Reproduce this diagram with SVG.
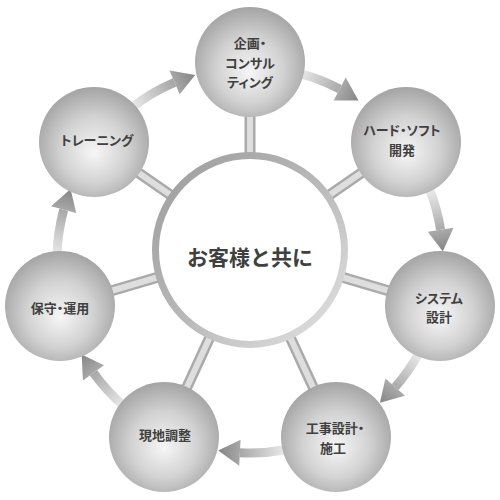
<svg xmlns="http://www.w3.org/2000/svg" width="500" height="500" viewBox="0 0 500 500">
<defs>
<radialGradient id="sat" cx="0.5" cy="0.55" r="0.55" fx="0.5" fy="0.6">
<stop offset="0" stop-color="#f6f6f6"/>
<stop offset="0.55" stop-color="#d2d2d2"/>
<stop offset="1" stop-color="#a4a4a4"/>
</radialGradient>
<linearGradient id="ring" x1="0" y1="0" x2="1" y2="1">
<stop offset="0" stop-color="#9c9c9c"/>
<stop offset="0.5" stop-color="#b8b8b8"/>
<stop offset="1" stop-color="#e4e4e4"/>
</linearGradient>
<linearGradient id="g1" gradientUnits="userSpaceOnUse" x1="298.3" y1="73.2" x2="358.5" y2="100.4"><stop offset="0" stop-color="#ececec"/><stop offset="0.6" stop-color="#b0b0b0"/><stop offset="1" stop-color="#858585"/></linearGradient>
<linearGradient id="g2" gradientUnits="userSpaceOnUse" x1="429.6" y1="189.3" x2="442.8" y2="251.6"><stop offset="0" stop-color="#ececec"/><stop offset="0.6" stop-color="#b0b0b0"/><stop offset="1" stop-color="#858585"/></linearGradient>
<linearGradient id="g3" gradientUnits="userSpaceOnUse" x1="419.3" y1="352.7" x2="379.9" y2="402.7"><stop offset="0" stop-color="#ececec"/><stop offset="0.6" stop-color="#b0b0b0"/><stop offset="1" stop-color="#858585"/></linearGradient>
<linearGradient id="g4" gradientUnits="userSpaceOnUse" x1="286.8" y1="449.5" x2="218.2" y2="450.4"><stop offset="0" stop-color="#ececec"/><stop offset="0.6" stop-color="#b0b0b0"/><stop offset="1" stop-color="#858585"/></linearGradient>
<linearGradient id="g5" gradientUnits="userSpaceOnUse" x1="124.7" y1="406.8" x2="81.7" y2="354.5"><stop offset="0" stop-color="#ececec"/><stop offset="0.6" stop-color="#b0b0b0"/><stop offset="1" stop-color="#858585"/></linearGradient>
<linearGradient id="g6" gradientUnits="userSpaceOnUse" x1="57" y1="256.6" x2="70.6" y2="189"><stop offset="0" stop-color="#ececec"/><stop offset="0.6" stop-color="#b0b0b0"/><stop offset="1" stop-color="#858585"/></linearGradient>
<linearGradient id="g7" gradientUnits="userSpaceOnUse" x1="131.2" y1="107.9" x2="195.2" y2="74.9"><stop offset="0" stop-color="#ececec"/><stop offset="0.6" stop-color="#b0b0b0"/><stop offset="1" stop-color="#858585"/></linearGradient>
</defs>
<style>
.spoke-o{stroke:#aaaaaa;stroke-width:11;fill:none}
.spoke-i{stroke:#dedede;stroke-width:6;fill:none}
.shaft{fill:none;stroke-width:9}
.sat{fill:url(#sat)}
.lbl{font-family:"Noto Sans CJK JP","Noto Sans CJK SC",sans-serif;font-weight:bold;font-size:13px;fill:#404040;text-anchor:middle;font-feature-settings:"palt"}
.ctr{font-family:"Noto Sans CJK JP","Noto Sans CJK SC",sans-serif;font-weight:bold;font-size:21px;fill:#404040;text-anchor:middle}
</style>
<g id="connectors">
<g id="spokes">
<line class="spoke-o" x1="250" y1="250" x2="250" y2="62"/>
<line class="spoke-o" x1="250" y1="250" x2="406" y2="142"/>
<line class="spoke-o" x1="250" y1="250" x2="440" y2="306"/>
<line class="spoke-o" x1="250" y1="250" x2="336" y2="437"/>
<line class="spoke-o" x1="250" y1="250" x2="164" y2="437"/>
<line class="spoke-o" x1="250" y1="250" x2="60" y2="306"/>
<line class="spoke-o" x1="250" y1="250" x2="94" y2="142"/>
<line class="spoke-i" x1="250" y1="250" x2="250" y2="62"/>
<line class="spoke-i" x1="250" y1="250" x2="406" y2="142"/>
<line class="spoke-i" x1="250" y1="250" x2="440" y2="306"/>
<line class="spoke-i" x1="250" y1="250" x2="336" y2="437"/>
<line class="spoke-i" x1="250" y1="250" x2="164" y2="437"/>
<line class="spoke-i" x1="250" y1="250" x2="60" y2="306"/>
<line class="spoke-i" x1="250" y1="250" x2="94" y2="142"/>
</g>
<g id="arrows">
<path class="shaft" stroke="url(#g1)" d="M298.3,73.2 A193,193 0 0 1 339.7,89.1"/>
<polygon fill="url(#g1)" points="345.7,77.6 358.5,100.4 333.7,100.6"/>
<path class="shaft" stroke="url(#g2)" d="M429.6,189.3 A193,193 0 0 1 440.6,229.8"/>
<polygon fill="url(#g2)" points="453.5,227.8 442.8,251.6 427.8,231.8"/>
<path class="shaft" stroke="url(#g3)" d="M419.3,352.7 A193,193 0 0 1 395.2,387.1"/>
<polygon fill="url(#g3)" points="405,395.7 379.9,402.7 385.4,378.6"/>
<path class="shaft" stroke="url(#g4)" d="M286.8,449.5 A193,193 0 0 1 239.9,452.7"/>
<polygon fill="url(#g4)" points="239.2,465.7 218.2,450.4 240.6,439.7"/>
<path class="shaft" stroke="url(#g5)" d="M124.7,406.8 A193,193 0 0 1 93.5,372.9"/>
<polygon fill="url(#g5)" points="82.9,380.5 81.7,354.5 104,365.3"/>
<path class="shaft" stroke="url(#g6)" d="M57,256.6 A193,193 0 0 1 63.7,209.7"/>
<polygon fill="url(#g6)" points="51.1,206.3 70.6,189 76.2,213.1"/>
<path class="shaft" stroke="url(#g7)" d="M131.2,107.9 A193,193 0 0 1 174.6,82.3"/>
<polygon fill="url(#g7)" points="169.5,70.4 195.2,74.9 179.7,94.3"/>
</g>
</g>
<g id="center">
<circle cx="250" cy="250" r="94.5" fill="#ffffff" stroke="url(#ring)" stroke-width="7"/>
<text class="ctr" x="250" y="265">お客様と共に</text>
</g>
<g id="n1">
<circle class="sat" cx="250" cy="62" r="55"/>
<text class="lbl" x="250" y="48">企画・</text>
<text class="lbl" x="250" y="68">コンサル</text>
<text class="lbl" x="250" y="87">ティング</text>
</g>
<g id="n2">
<circle class="sat" cx="406" cy="142" r="55"/>
<text class="lbl" x="402" y="135">ハード・ソフト</text>
<text class="lbl" x="402" y="155">開発</text>
</g>
<g id="n3">
<circle class="sat" cx="440" cy="306" r="55"/>
<text class="lbl" x="439" y="303">システム</text>
<text class="lbl" x="439" y="322">設計</text>
</g>
<g id="n4">
<circle class="sat" cx="336" cy="437" r="55"/>
<text class="lbl" x="335" y="433">工事設計・</text>
<text class="lbl" x="333" y="453">施工</text>
</g>
<g id="n5">
<circle class="sat" cx="164" cy="437" r="55"/>
<text class="lbl" x="165" y="440">現地調整</text>
</g>
<g id="n6">
<circle class="sat" cx="60" cy="306" r="55"/>
<text class="lbl" x="60" y="313">保守・運用</text>
</g>
<g id="n7">
<circle class="sat" cx="94" cy="142" r="55"/>
<text class="lbl" x="97" y="145">トレーニング</text>
</g>
</svg>
